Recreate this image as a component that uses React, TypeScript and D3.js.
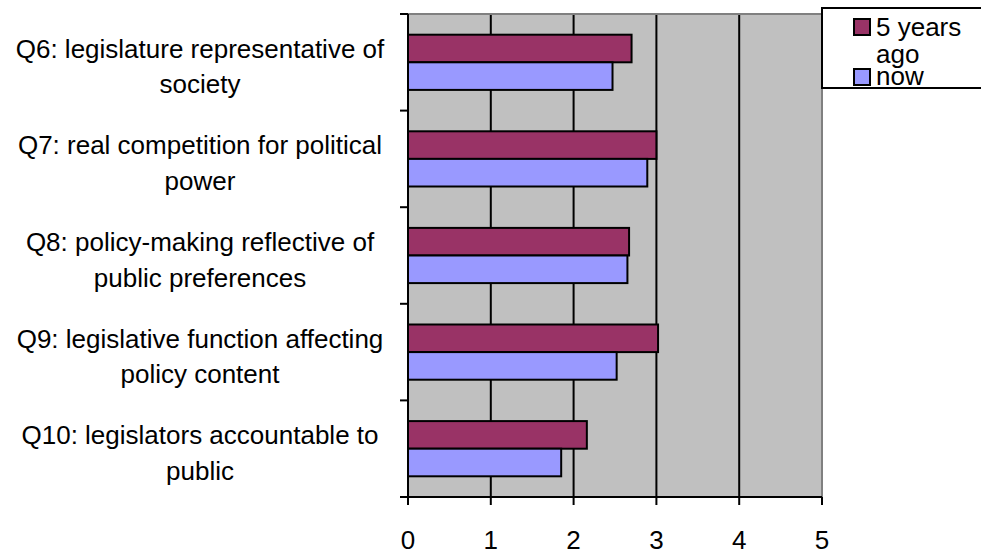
import { useEffect, useRef } from "react";
import * as d3 from "d3";

const categories = [
  ["Q6: legislature representative of", "society"],
  ["Q7: real competition for political", "power"],
  ["Q8: policy-making reflective of", "public preferences"],
  ["Q9: legislative function affecting", "policy content"],
  ["Q10: legislators accountable to", "public"],
];
const fiveYearsAgo = [2.7, 3.0, 2.67, 3.02, 2.16];
const now = [2.47, 2.89, 2.65, 2.52, 1.85];
const seriesNames = ["5 years", "now"];
const xTicks = [0, 1, 2, 3, 4, 5];

function App() {
  const svgRef = useRef<SVGSVGElement>(null);

  useEffect(() => {
    const svgElement = svgRef.current;
    if (!svgElement) return;

    const font = "Arial, 'Liberation Sans', sans-serif";
    const fontSize = "26px";
    const left = 408;
    const right = 822;
    const top = 14;
    const bottom = 497;

    const svg = d3.select(svgElement);

    const xScale = d3.scaleLinear().domain([0, 5]).range([left, right]);
    const yScale = d3
      .scaleBand()
      .domain(categories.map((d) => d[0]))
      .range([top, bottom]);
    // gap width 150% -> two bars take 2/3.5 of the band
    const barH = yScale.bandwidth() / 3.5;

    // plot background
    svg
      .append("rect")
      .attr("x", left)
      .attr("y", top)
      .attr("width", right - left)
      .attr("height", bottom - top)
      .attr("fill", "#C0C0C0");

    // gridlines
    svg
      .selectAll(".grid")
      .data(xTicks.slice(1, 5))
      .enter()
      .append("line")
      .attr("x1", (d) => xScale(d))
      .attr("x2", (d) => xScale(d))
      .attr("y1", top)
      .attr("y2", bottom)
      .attr("stroke", "#000")
      .attr("stroke-width", 2);

    // plot border (top + right)
    svg
      .append("path")
      .attr("d", `M${left},${top}H${right}V${bottom}`)
      .attr("fill", "none")
      .attr("stroke", "#808080")
      .attr("stroke-width", 2);

    const series = [
      { values: fiveYearsAgo, color: "#993366", offset: 0 },
      { values: now, color: "#9999FF", offset: 1 },
    ];

    series.forEach((s) => {
      svg
        .selectAll(null)
        .data(categories)
        .enter()
        .append("rect")
        .attr("x", xScale(0))
        .attr(
          "y",
          (d) => (yScale(d[0]) || 0) + 0.75 * barH + s.offset * barH
        )
        .attr("width", (_d, i) => xScale(s.values[i]) - xScale(0))
        .attr("height", barH)
        .attr("fill", s.color)
        .attr("stroke", "#000")
        .attr("stroke-width", 2);
    });

    // y axis
    svg
      .append("line")
      .attr("x1", left)
      .attr("x2", left)
      .attr("y1", top)
      .attr("y2", bottom)
      .attr("stroke", "#000")
      .attr("stroke-width", 2);

    const bounds = categories.map((d) => yScale(d[0]) || 0).concat([bottom]);
    svg
      .selectAll(".ytick")
      .data(bounds)
      .enter()
      .append("line")
      .attr("x1", left - 8)
      .attr("x2", left)
      .attr("y1", (d) => d)
      .attr("y2", (d) => d)
      .attr("stroke", "#000")
      .attr("stroke-width", 2);

    // x axis
    svg
      .append("line")
      .attr("x1", left - 8)
      .attr("x2", right)
      .attr("y1", bottom)
      .attr("y2", bottom)
      .attr("stroke", "#000")
      .attr("stroke-width", 2);

    svg
      .selectAll(".xtick")
      .data(xTicks)
      .enter()
      .append("line")
      .attr("x1", (d) => xScale(d))
      .attr("x2", (d) => xScale(d))
      .attr("y1", bottom)
      .attr("y2", bottom + 8)
      .attr("stroke", "#000")
      .attr("stroke-width", 2);

    svg
      .selectAll(".xlabel")
      .data(xTicks)
      .enter()
      .append("text")
      .attr("x", (d) => xScale(d))
      .attr("y", 549)
      .attr("text-anchor", "middle")
      .style("font-family", font)
      .style("font-size", fontSize)
      .text((d) => d);

    // category labels
    categories.forEach((c) => {
      const cy = (yScale(c[0]) || 0) + yScale.bandwidth() / 2;
      svg
        .append("text")
        .attr("x", 200)
        .attr("y", cy - 4.5)
        .attr("text-anchor", "middle")
        .style("font-family", font)
        .style("font-size", fontSize)
        .text(c[0]);
      svg
        .append("text")
        .attr("x", 200)
        .attr("y", cy + 31)
        .attr("text-anchor", "middle")
        .style("font-family", font)
        .style("font-size", fontSize)
        .text(c[1]);
    });

    // legend
    svg
      .append("rect")
      .attr("x", 822)
      .attr("y", 8)
      .attr("width", 170)
      .attr("height", 80)
      .attr("fill", "#fff")
      .attr("stroke", "#000")
      .attr("stroke-width", 2);

    const legendY = [19, 69];
    const legendBase = [36, 85];
    series.forEach((s, i) => {
      svg
        .append("rect")
        .attr("x", 854)
        .attr("y", legendY[i])
        .attr("width", 16)
        .attr("height", 16)
        .attr("fill", s.color)
        .attr("stroke", "#000")
        .attr("stroke-width", 2);
      svg
        .append("text")
        .attr("x", 876)
        .attr("y", legendBase[i])
        .style("font-family", font)
        .style("font-size", fontSize)
        .text(seriesNames[i]);
    });
    svg
      .append("text")
      .attr("x", 876)
      .attr("y", 63)
      .style("font-family", font)
      .style("font-size", fontSize)
      .text("ago");

    return () => {
      d3.select(svgElement).selectAll("*").remove();
    };
  }, []);

  return (
    <svg
      ref={svgRef}
      width={981}
      height={554}
      style={{ position: "absolute", left: 0, top: 0, background: "#fff" }}
    ></svg>
  );
}

export default App;
